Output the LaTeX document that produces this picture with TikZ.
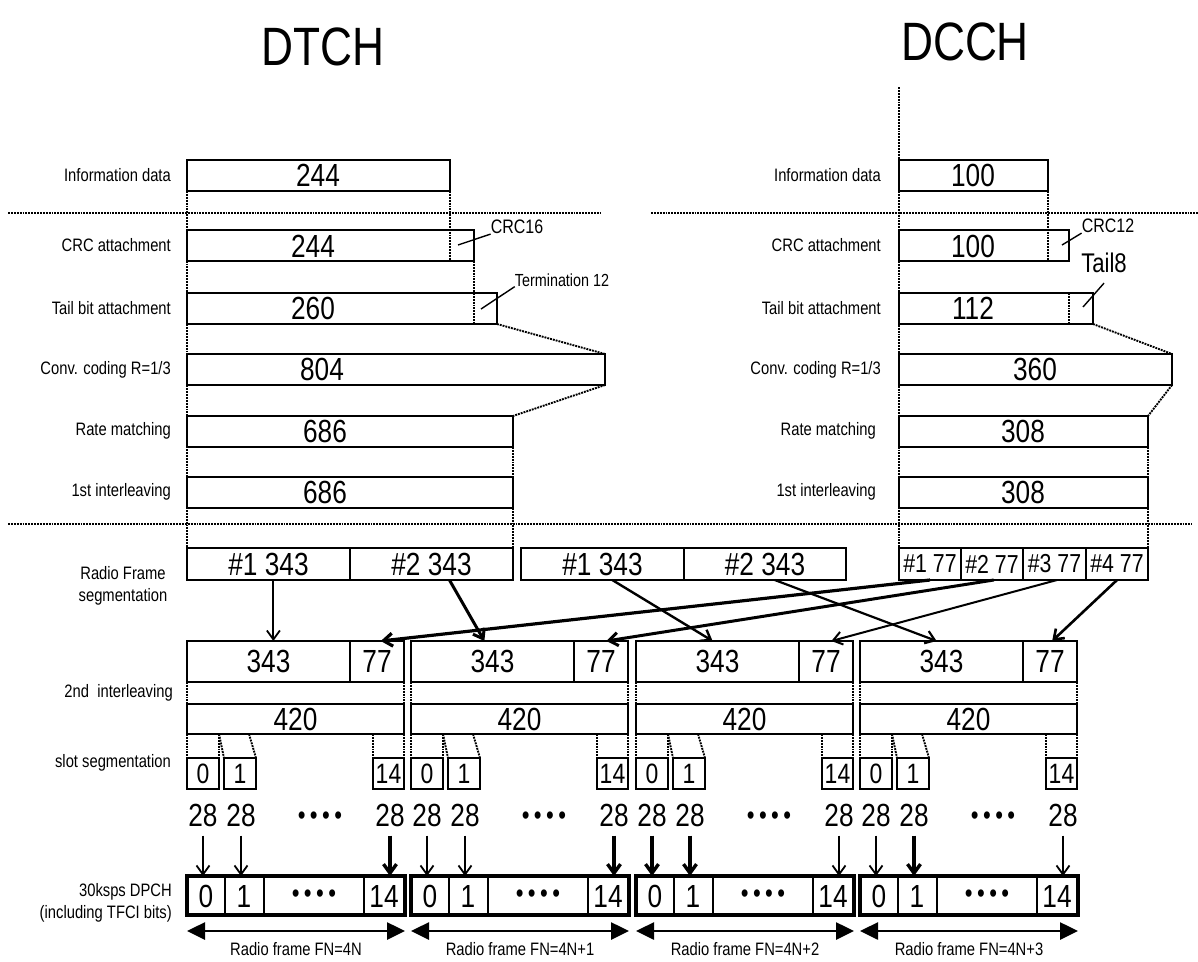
\documentclass[tikz,border=0pt]{standalone}
\usepackage{fontspec}
\newfontfamily\nf[FakeStretch=0.82]{Liberation Sans}
\usetikzlibrary{arrows.meta,calc}
\tikzset{
  bx/.style={draw, line width=1.8pt, minimum height=31pt, inner sep=0pt, outer sep=0pt, anchor=north west, font=\nf\fontsize{32}{32}\selectfont},
  dpbox/.style={draw, line width=3.6pt, minimum height=39pt, minimum width=218pt, inner sep=0pt, outer sep=0pt, anchor=north west},
  num/.style={font=\nf\fontsize{32}{32}\selectfont, inner sep=0pt},
  snum/.style={font=\nf\fontsize{27}{27}\selectfont, inner sep=0pt},
  lbl/.style={font=\nf\fontsize{18}{22.5}\selectfont, inner sep=0pt, anchor=east},
  ttl/.style={font=\nf\fontsize{54}{54}\selectfont, inner sep=0pt},
  note/.style={font=\nf\fontsize{19.5}{19.5}\selectfont, inner sep=0pt},
  dotl/.style={densely dotted, line width=1.9pt},
  lead/.style={line width=1.4pt},
  arr/.style={-{Straight Barb[length=9pt,width=13pt]}, line width=1.8pt},
  dbl/.style={{Triangle[length=18pt,width=17pt]}-{Triangle[length=18pt,width=17pt]}, line width=2.6pt},
}
\begin{document}
\begin{tikzpicture}[x=1pt,y=-1pt]
\useasboundingbox (0,0) rectangle (1198,961);

% titles
\node[ttl] (tdt) at (323,47) {DTCH};
\node[ttl] (tdc) at (965,42) {DCCH};

% left labels
\node[lbl] (la1) at (171,175) {Information data};
\node[lbl] (la2) at (171,245) {CRC attachment};
\node[lbl] (la3) at (171,308) {Tail bit attachment};
\node[lbl] (la4) at (171,370) {Conv. coding R=1/3};
\node[lbl] (la5) at (171,431) {Rate matching};
\node[lbl] (la6) at (171,492) {1st interleaving};
% right labels
\node[lbl] (lr1) at (881,175) {Information data};
\node[lbl] (lr2) at (881,245) {CRC attachment};
\node[lbl] (lr3) at (881,308) {Tail bit attachment};
\node[lbl] (lr4) at (881,370) {Conv. coding R=1/3};
\node[lbl] (lr5) at (876,431) {Rate matching};
\node[lbl] (lr6) at (876,492) {1st interleaving};

% DTCH boxes
\node[bx, minimum width=263pt] (i1) at (187,160) {};
\node[bx, minimum width=287pt] (c1) at (187,230) {};
\node[bx, minimum width=310pt] (t1) at (187,293) {};
\node[bx, minimum width=418pt] (v1) at (187,354) {};
\node[bx, minimum width=326pt] (r1) at (187,416) {};
\node[bx, minimum width=326pt] (l1) at (187,477) {};
\node[num] (i1n) at (318,175) {244};
\node[num] (c1n) at (313,246) {244};
\node[num] (t1n) at (313,308) {260};
\node[num] (v1n) at (322,369) {804};
\node[num] (r1n) at (325,431) {686};
\node[num] (l1n) at (325,492) {686};

% DCCH boxes
\node[bx, minimum width=149pt] (i2) at (899,160) {};
\node[bx, minimum width=170pt] (c2) at (899,230) {};
\node[bx, minimum width=194pt] (t2) at (899,293) {};
\node[bx, minimum width=273pt] (v2) at (899,354) {};
\node[bx, minimum width=249pt] (r2) at (899,416) {};
\node[bx, minimum width=249pt] (l2) at (899,477) {};
\node[num] (i2n) at (973,175) {100};
\node[num] (c2n) at (973,246) {100};
\node[num] (t2n) at (973,308) {112};
\node[num] (v2n) at (1035,369) {360};
\node[num] (r2n) at (1023,431) {308};
\node[num] (l2n) at (1023,492) {308};

% annotations
\node[note] (crc16) at (517,227) {CRC16};
\coordinate (p1) at (458,245);
\draw[lead] (p1) -- (crc16.south west);
\node[note, font=\nf\fontsize{17.5}{17.5}\selectfont] (term) at (562,280) {Termination 12};
\coordinate (p2) at (481,309);
\draw[lead] (p2) -- (term.south west);
\node[note] (crc12) at (1108,226) {CRC12};
\coordinate (p3) at (1062,245);
\draw[lead] (p3) -- (crc12.south west);
\node[note, font=\nf\fontsize{27}{27}\selectfont] (tail8) at (1104,263) {Tail8};
\coordinate (p4) at (1083,307);
\draw[lead] (p4) -- ([yshift=-10pt]tail8.south);

% radio frame segmentation boxes
\node[bx, minimum width=163pt, minimum height=32pt] (rs1) at (187,548) {\#1 343};
\node[bx, minimum width=163pt, minimum height=32pt] (rs2) at (350,548) {\#2 343};
\node[bx, minimum width=163pt, minimum height=32pt] (rs3) at (521,548) {\#1 343};
\node[bx, minimum width=162pt, minimum height=32pt] (rs4) at (684,548) {\#2 343};
\node[bx, minimum width=62pt, minimum height=32pt, font=\nf\fontsize{26}{26}\selectfont] (cs1) at (899,548) {\#1 77};
\node[bx, minimum width=62pt, minimum height=32pt, font=\nf\fontsize{26}{26}\selectfont] (cs2) at (961,548) {\#2 77};
\node[bx, minimum width=63pt, minimum height=32pt, font=\nf\fontsize{26}{26}\selectfont] (cs3) at (1023,548) {\#3 77};
\node[bx, minimum width=62pt, minimum height=32pt, font=\nf\fontsize{26}{26}\selectfont] (cs4) at (1086,548) {\#4 77};

% dotted guide lines
\draw[dotl] (8,213) -- (600,213);
\draw[dotl] (651,213) -- (1198,213);
\draw[dotl] (8,524) -- (1192,524);
\draw[dotl] (i1.south west) -- (rs1.north west);
\draw[dotl] (i1.south east) -- (i1.south east |- c1.south);
\draw[dotl] (c1.south east) -- (c1.south east |- t1.south);
\draw[dotl] (t1.south east) -- (v1.north east);
\draw[dotl] (v1.south east) -- (r1.north east);
\draw[dotl] (r1.south east) -- (l1.north east);
\draw[dotl] (l1.south east) -- (rs2.north east);
\coordinate (dtop) at (899,87);
\draw[dotl] (dtop) -- (cs1.north west);
\draw[dotl] (i2.south east) -- (i2.south east |- c2.south);
\draw[dotl] (c2.south east |- t2.north) -- (c2.south east |- t2.south);
\draw[dotl] (t2.south east) -- (v2.north east);
\draw[dotl] (v2.south east) -- (r2.north east);
\draw[dotl] (r2.south east) -- (l2.north east);
\draw[dotl] (l2.south east) -- (cs4.north east);

% lower labels
\node[lbl, anchor=center, align=center] (lb7) at (123,586) {Radio Frame\\segmentation};
\node[lbl] (lb8) at (173,693) {2nd\ \ interleaving};
\node[lbl] (lb9) at (171,763) {slot segmentation};
\node[lbl, align=right] (lb10) at (172,903) {30ksps DPCH\\(including TFCI bits)};

% per-frame structure
\foreach \s/\wa/\wb/\wc/\fn [count=\i] in {187/1.8/1.8/3.4/4N, 411/1.8/1.8/3.4/4N+1, 636/3.4/3.4/1.8/4N+2, 860/1.8/3.4/1.8/4N+3}{
  \node[bx, minimum width=163pt, minimum height=41pt] (fa\i) at (\s,641) {343};
  \node[bx, minimum width=54pt, minimum height=41pt] (fb\i) at (\s+163,641) {77};
  \node[bx, minimum width=217pt, minimum height=30pt] (fc\i) at (\s,704) {420};
  \draw[dotl] (fa\i.south west) -- (fc\i.north west);
  \draw[dotl] (fb\i.south east) -- (fc\i.north east);
  % slots
  \node[bx, minimum width=32pt, font=\nf\fontsize{28}{28}\selectfont] (sa\i) at (\s,758) {0};
  \node[bx, minimum width=32pt, font=\nf\fontsize{28}{28}\selectfont] (sb\i) at (\s+37,758) {1};
  \node[bx, minimum width=31pt, font=\nf\fontsize{28}{28}\selectfont] (sc\i) at (\s+186,758) {14};
  \draw[dotl] (fc\i.south west) -- (sa\i.north west);
  \draw[dotl] ($(fc\i.south west)+(32,0)$) -- (sa\i.north east);
  \draw[dotl] ($(fc\i.south west)+(32,0)$) -- (sb\i.north west);
  \draw[dotl] ($(fc\i.south west)+(62,0)$) -- (sb\i.north east);
  \draw[dotl] ($(fc\i.south west)+(186,0)$) -- (sc\i.north west);
  \draw[dotl] (fc\i.south east) -- (sc\i.north east);
  % 28 labels
  \node[num] (na\i) at (\s+16,815) {28};
  \node[num] (nb\i) at (\s+54,815) {28};
  \node[num] (nc\i) at (\s+203,815) {28};
  \node[snum] (nd\i) at (\s+133,818) {\textbullet\,\textbullet\,\textbullet\,\textbullet};
  % DPCH
  \node[dpbox] (dp\i) at (\s,876) {};
  \draw[line width=1.6pt] ($(dp\i.north west)+(38,0)$) -- ($(dp\i.south west)+(38,0)$);
  \draw[line width=1.6pt] ($(dp\i.north west)+(77,0)$) -- ($(dp\i.south west)+(77,0)$);
  \draw[line width=1.6pt] ($(dp\i.north west)+(177,0)$) -- ($(dp\i.south west)+(177,0)$);
  \node[num] (da\i) at (\s+19,896) {0};
  \node[num] (db\i) at (\s+57,896) {1};
  \node[snum] (dd\i) at (\s+127,896) {\textbullet\,\textbullet\,\textbullet\,\textbullet};
  \node[num] (dc\i) at (\s+197,896) {14};
  \draw[arr, line width=\wa pt, shorten <=9pt] (na\i.south) -- (na\i.south |- dp\i.north);
  \draw[arr, line width=\wb pt, shorten <=9pt] (nb\i.south) -- (nb\i.south |- dp\i.north);
  \draw[arr, line width=\wc pt, shorten <=9pt] (nc\i.south) -- (nc\i.south |- dp\i.north);
  % radio frame span
  \draw[dbl] ($(dp\i.south west)+(0,16)$) -- ($(dp\i.south east)+(0,16)$);
  \node[lbl, anchor=center] (fn\i) at (\s+109,949) {Radio frame FN=\fn};
}

% radio frame segmentation arrows
\draw[arr, line width=1.8pt] ($(rs1.south west)!0.53!(rs1.south east)$) -- ($(fa1.north west)!0.53!(fa1.north east)$);
\draw[arr, line width=3pt] ($(rs2.south west)!0.61!(rs2.south east)$) -- ($(fa2.north west)!0.45!(fa2.north east)$);
\draw[arr, line width=2.4pt] ($(rs3.south west)!0.56!(rs3.south east)$) -- ($(fa3.north west)!0.47!(fa3.north east)$);
\draw[arr, line width=2.2pt] ($(rs4.south west)!0.56!(rs4.south east)$) -- ($(fa4.north west)!0.47!(fa4.north east)$);
\draw[arr, line width=3.2pt] ($(cs1.south west)!0.5!(cs1.south east)$) -- ($(fb1.north west)!0.57!(fb1.north east)$);
\draw[arr, line width=3pt] ($(cs2.south west)!0.53!(cs2.south east)$) -- ($(fb2.north west)!0.6!(fb2.north east)$);
\draw[arr, line width=2pt] ($(cs3.south west)!0.54!(cs3.south east)$) -- ($(fb3.north west)!0.6!(fb3.north east)$);
\draw[arr, line width=2.6pt] ($(cs4.south west)!0.5!(cs4.south east)$) -- ($(fb4.north west)!0.54!(fb4.north east)$);
\end{tikzpicture}
\end{document}
